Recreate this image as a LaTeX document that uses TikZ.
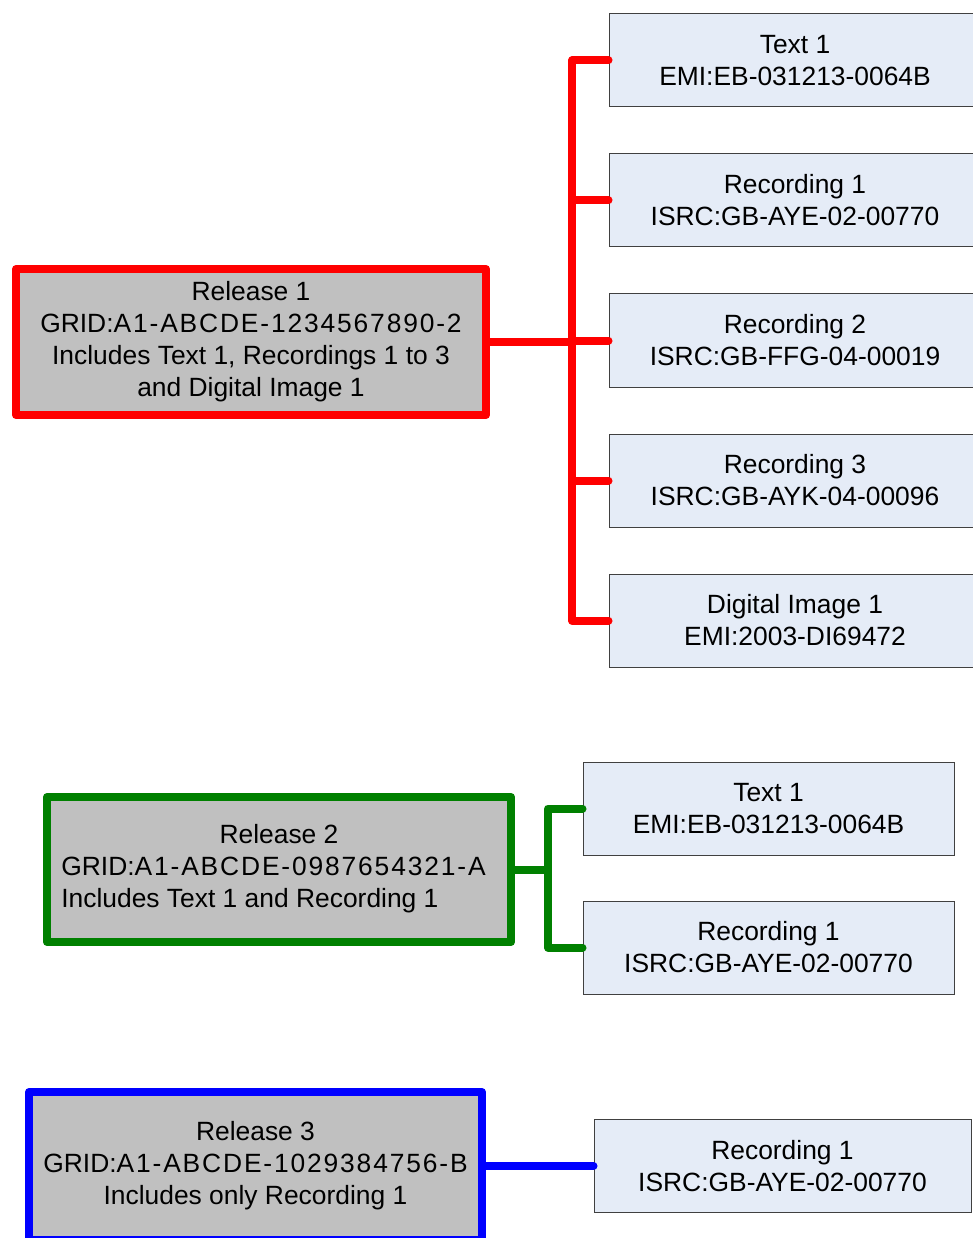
\documentclass[tikz,border=0pt]{standalone}
\usepackage{fontspec}
\setmainfont{Liberation Sans}
\newfontfamily\gridfont[LetterSpace=7]{Liberation Sans}
\definecolor{relgray}{RGB}{192,192,192}
\definecolor{itemfill}{RGB}{229,236,247}
\definecolor{itemline}{RGB}{64,64,64}
\definecolor{rred}{RGB}{255,0,0}
\definecolor{rgreen}{RGB}{0,128,0}
\definecolor{rblue}{RGB}{0,0,255}
\newcommand{\gid}[1]{GRID:{\gridfont #1}}
\begin{document}
\begin{tikzpicture}[x=1pt,y=-1pt,
  every node/.style={font=\fontsize{26.4}{32}\selectfont, inner sep=0pt},
  release/.style={draw, line width=8pt, line join=round, fill=relgray, align=center},
  item/.style={draw=itemline, line width=1pt, fill=itemfill, align=center,
    minimum width=372pt, minimum height=93pt},
  link/.style={line width=8pt, line join=miter},
  tip/.style={line width=8pt, line cap=round}]
\useasboundingbox (0,0) rectangle (973,1238);
\clip (0,0) rectangle (973,1238);

% Release 1 with its five items
\node[release, draw=rred, minimum width=470pt, minimum height=146pt] (r1) at (251,342)
  {Release 1\\ \gid{A1-ABCDE-1234567890-2}\\ Includes Text 1, Recordings 1 to 3\\ and Digital Image 1};
\node[item] (a1) at (795,60.5) {Text 1\\ EMI:EB-031213-0064B};
\node[item] (a2) at (795,200.5) {Recording 1\\ ISRC:GB-AYE-02-00770};
\node[item] (a3) at (795,340.5) {Recording 2\\ ISRC:GB-FFG-04-00019};
\node[item] (a4) at (795,480.5) {Recording 3\\ ISRC:GB-AYK-04-00096};
\node[item] (a5) at (795,620.5) {Digital Image 1\\ EMI:2003-DI69472};
\coordinate (bus1) at (572,0);
\draw[rred, link] (a1.west -| bus1) -- (a5.west -| bus1);
\draw[rred, link] (r1.east) -- (r1.east -| bus1);
\foreach \n in {a1,a2,a3,a4,a5}
  \draw[rred, tip] (\n.west -| bus1) -- (\n.west);

% Release 2 with its two items
\node[release, draw=rgreen, minimum width=464pt, minimum height=145pt] (r2) at (279,869.5)
  {\begin{tabular}{@{}l@{}}\multicolumn{1}{@{}c@{}}{\hspace*{11pt}Release 2}\\ \gid{A1-ABCDE-0987654321-A}\\ Includes Text 1 and Recording 1\end{tabular}\hspace*{11pt}};
\node[item, minimum width=371pt] (b1) at (768.5,808.5) {Text 1\\ EMI:EB-031213-0064B};
\node[item, minimum width=371pt] (b2) at (768.5,947.5) {Recording 1\\ ISRC:GB-AYE-02-00770};
\coordinate (bus2) at (548,0);
\draw[rgreen, link] (b1.west -| bus2) -- (b2.west -| bus2);
\draw[rgreen, link] (r2.east) -- (r2.east -| bus2);
\foreach \n in {b1,b2}
  \draw[rgreen, tip] (\n.west -| bus2) -- (\n.west);

% Release 3 with its single item
\node[release, draw=rblue, minimum width=453pt, minimum height=148pt] (r3) at (255.5,1166)
  {Release 3\\ \gid{A1-ABCDE-1029384756-B}\\ Includes only Recording 1};
\node[item, minimum width=377pt] (c1) at (782.5,1166) {Recording 1\\ ISRC:GB-AYE-02-00770};
\draw[rblue, tip] (r3.east) -- (c1.west);
\end{tikzpicture}
\end{document}
